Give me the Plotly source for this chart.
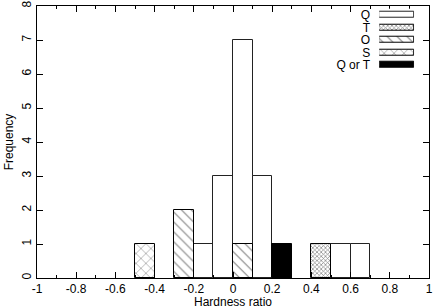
import plotly.graph_objects as go

# ---- data ----
bin_width = 0.1
q_bins = [-0.15, -0.05, 0.05, 0.15, 0.55, 0.65]
q_counts = [1, 3, 7, 3, 1, 1]
t_bins = [0.45]
t_counts = [1]
o_bins = [-0.25, 0.05]
o_counts = [2, 1]
s_bins = [-0.45]
s_counts = [1]
qt_bins = [0.25]
qt_counts = [1]

series_names = ["Q", "T", "O", "S", "Q or T"]
x_tick_vals = [-1, -0.8, -0.6, -0.4, -0.2, 0, 0.2, 0.4, 0.6, 0.8, 1]
x_tick_labels = ["-1", "-0.8", "-0.6", "-0.4", "-0.2", "0", "0.2", "0.4", "0.6", "0.8", "1"]
y_tick_vals = [0, 1, 2, 3, 4, 5, 6, 7, 8]
y_tick_labels = ["0", "1", "2", "3", "4", "5", "6", "7", "8"]
x_title = "Hardness ratio"
y_title = "Frequency"

FONT = "Liberation Sans, Arial, Helvetica, sans-serif"

styles = {
    "Q": dict(color="white", pattern=dict(shape=""), line=dict(color="#222", width=1)),
    "T": dict(color="white", pattern=dict(shape="x", size=3, solidity=0.4, fgcolor="black", bgcolor="white"),
              line=dict(color="black", width=1)),
    "O": dict(color="white", pattern=dict(shape="\\", size=7, solidity=0.15, fgcolor="black", bgcolor="white"),
              line=dict(color="black", width=1)),
    "S": dict(color="white", pattern=dict(shape="x", size=7, solidity=0.15, fgcolor="black", bgcolor="white"),
              line=dict(color="black", width=1)),
    "Q or T": dict(color="black", pattern=dict(shape=""), line=dict(color="black", width=1)),
}

fig = go.Figure()
data = {
    "Q": (q_bins, q_counts),
    "T": (t_bins, t_counts),
    "O": (o_bins, o_counts),
    "S": (s_bins, s_counts),
    "Q or T": (qt_bins, qt_counts),
}
for name in series_names:
    xs, ys = data[name]
    fig.add_trace(go.Bar(x=xs, y=ys, width=bin_width, name=name, marker=styles[name],
                         opacity=1, showlegend=False))

# custom legend (swatch right of label) as inset bars
for name in series_names:
    fig.add_trace(go.Bar(x=[1], y=[name], orientation="h", width=0.5, marker=styles[name],
                         xaxis="x2", yaxis="y2", showlegend=False, hoverinfo="skip"))

fig.update_layout(
    width=436, height=308,
    margin=dict(l=37, r=7, t=6, b=30),
    paper_bgcolor="white", plot_bgcolor="white",
    font=dict(family=FONT, size=12, color="black"),
    barmode="overlay",
    bargap=0,
    xaxis=dict(range=[-1, 1], tickvals=x_tick_vals, ticktext=x_tick_labels, automargin=False,
               ticks="inside", ticklen=6, tickcolor="black", showline=True, linecolor="black",
               linewidth=1, mirror="ticks", showgrid=False, zeroline=False,
               minor=dict(dtick=0.1, ticks="inside", ticklen=3, tickcolor="black", showgrid=False)),
    yaxis=dict(range=[0, 8], tickvals=y_tick_vals, ticktext=y_tick_labels, tickangle=-90,
               automargin=False,
               ticks="inside", ticklen=6, tickcolor="black", showline=True, linecolor="black",
               linewidth=1, mirror="ticks", showgrid=False, zeroline=False,
               title=dict(text=y_title, standoff=4, font=dict(size=12))),
    xaxis2=dict(domain=[0.873, 0.962], range=[0, 1], anchor="y2", visible=False, fixedrange=True,
                automargin=False),
    yaxis2=dict(domain=[0.760, 0.990], range=[4.5, -0.5], anchor="x2", type="category",
                categoryorder="array", categoryarray=series_names,
                tickmode="array", tickvals=series_names, ticktext=series_names,
                showgrid=False, zeroline=False, showline=False, ticks="", automargin=False,
                ticklabelstandoff=8, tickfont=dict(size=12)),
    annotations=[dict(text=x_title, xref="paper", yref="paper", x=0.5, y=0,
                      xanchor="center", yanchor="top", yshift=-16, showarrow=False,
                      borderpad=0, font=dict(size=12))],
)

fig.write_html("out.html", config={"displayModeBar": False},
               post_script="document.body.style.margin='0';document.body.style.overflow='hidden';")
